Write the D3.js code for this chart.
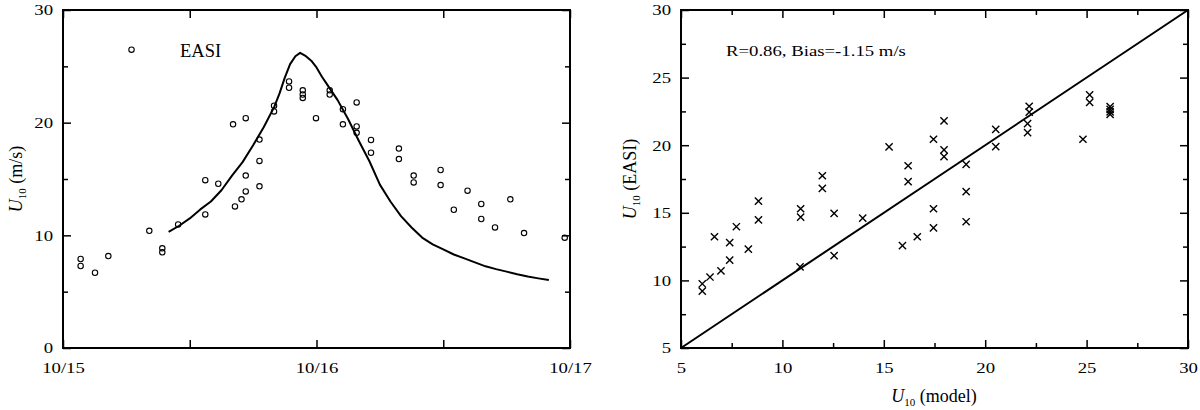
<!DOCTYPE html>
<html>
<head>
<meta charset="utf-8">
<script src="https://cdn.jsdelivr.net/npm/d3@7"></script>
<style>
  body { margin: 0; background: #fff; }
  svg, svg text { font-family: "Liberation Serif", "Times New Roman", serif; }
  .tick line { stroke: #000; stroke-width: 1.5; }
  .tick text { font-size: 15px; fill: #000; }
</style>
</head>
<body>
<div id="chart"></div>
<script>
// time axis (hours since 10/15 00:00)
var dayTicks = [0, 12, 24, 36, 48];
var dayLabels = ["10/15", "", "10/16", "", "10/17"];

// EASI observations, left panel
var obsHours = [1.67, 1.67, 3.03, 4.29, 8.17, 9.4, 9.4, 10.9, 13.47, 13.47, 14.7,
  16.1, 16.28, 16.9, 17.3, 17.3, 17.3, 18.6, 18.6, 18.6, 19.98, 19.98, 21.4, 21.4,
  22.7, 22.7, 22.7, 23.95, 25.25, 25.25, 26.5, 26.5, 27.8, 27.8, 27.8, 29.16, 29.16,
  31.8, 31.8, 33.2, 33.2, 35.75, 35.75, 37.0, 38.3, 39.6, 39.6, 40.9, 42.35, 43.65, 47.5];
var obsSpeed = [7.9, 7.28, 6.68, 8.16, 10.4, 8.85, 8.49, 10.97, 14.9, 11.86, 14.58,
  19.85, 12.57, 13.2, 20.4, 15.3, 13.9, 18.5, 16.6, 14.35, 21.5, 21.0, 23.66, 23.1,
  22.87, 22.5, 22.2, 20.4, 22.87, 22.5, 21.2, 19.85, 21.8, 19.67, 19.1, 18.46, 17.33,
  17.7, 16.77, 15.3, 14.7, 15.8, 14.46, 12.27, 13.96, 12.78, 11.45, 10.7, 13.2, 10.2, 9.79];

// model wind, left panel
var modelHours = [10, 11, 12, 13, 14, 15, 16, 17, 18, 19, 20, 20.5, 21, 21.5, 22, 22.45,
  23, 23.5, 24, 24.5, 25, 26, 27, 28, 29, 30, 31, 32, 33, 34, 35, 36, 37, 38, 39, 40,
  41, 42, 43, 44, 45, 46];
var modelSpeed = [10.3, 10.85, 11.5, 12.3, 13.0, 14.0, 15.3, 16.5, 18.0, 19.6, 21.4, 22.6,
  24.0, 25.2, 25.9, 26.2, 25.9, 25.5, 24.9, 24.1, 23.4, 22.0, 20.3, 18.4, 16.6, 14.5,
  13.0, 11.7, 10.7, 9.8, 9.2, 8.75, 8.3, 7.95, 7.6, 7.25, 7.0, 6.78, 6.55, 6.35, 6.18, 6.03];

// scatter, right panel
var scatterModel = [6.05, 6.05, 6.43, 6.65, 6.97, 7.4, 7.4, 7.73, 8.32, 8.82, 8.82,
  10.9, 10.9, 10.87, 11.97, 11.97, 12.55, 12.55, 13.96, 15.26, 15.92, 16.2, 16.2, 16.65,
  17.45, 17.45, 17.45, 17.97, 17.97, 17.97, 19.06, 19.06, 19.06, 20.52, 20.52,
  22.17, 22.17, 22.09, 22.09, 24.82, 25.15, 25.15, 26.16, 26.16, 26.16, 26.16];
var scatterEasi = [9.75, 9.2, 10.25, 13.23, 10.7, 12.8, 11.5, 13.97, 12.32, 15.87, 14.47,
  15.3, 14.68, 11.0, 17.74, 16.8, 14.96, 11.83, 14.6, 19.88, 12.57, 18.48, 17.3, 13.23,
  20.44, 15.3, 13.88, 21.8, 19.65, 19.15, 18.58, 16.56, 14.34, 21.17, 19.89,
  22.88, 22.45, 21.6, 20.93, 20.44, 23.72, 23.17, 22.86, 22.65, 22.47, 22.28];
var scatterTicks = [5, 10, 15, 20, 25, 30];

var textStretch = 1.25;

var svg = d3.select("#chart").append("svg")
  .attr("width", 1200)
  .attr("height", 410);

svg.append("rect").attr("width", 1200).attr("height", 410).attr("fill", "#fff");

var plotTop = 10, plotBottom = 348;

function frameAxes(g, x, y, xMajor, xMinor, yMajor, yMinor, xFormat) {
  var x0 = x.range()[0], x1 = x.range()[1];

  g.append("g").attr("transform", `translate(0,${plotBottom})`)
    .call(d3.axisBottom(x).tickValues(xMinor).tickSizeInner(-5).tickSizeOuter(0).tickFormat(""));
  const bx = g.append("g").attr("transform", `translate(0,${plotBottom})`)
    .call(d3.axisBottom(x).tickValues(xMajor).tickSizeInner(-8).tickSizeOuter(0)
      .tickPadding(14).tickFormat(xFormat));
  bx.selectAll("text").attr("transform", `scale(${textStretch},1)`);

  g.append("g").attr("transform", `translate(0,${plotTop})`)
    .call(d3.axisTop(x).tickValues(xMinor).tickSizeInner(-5).tickSizeOuter(0).tickFormat(""));
  g.append("g").attr("transform", `translate(0,${plotTop})`)
    .call(d3.axisTop(x).tickValues(xMajor).tickSizeInner(-8).tickSizeOuter(0).tickFormat(""));

  g.append("g").attr("transform", `translate(${x0},0)`)
    .call(d3.axisLeft(y).tickValues(yMinor).tickSizeInner(-5).tickSizeOuter(0).tickFormat(""));
  const ly = g.append("g").attr("transform", `translate(${x0},0)`)
    .call(d3.axisLeft(y).tickValues(yMajor).tickSizeInner(-8).tickSizeOuter(0).tickFormat(d3.format("d")));
  ly.selectAll("text")
    .attr("x", -10 / textStretch)
    .attr("transform", `scale(${textStretch},1)`);

  g.append("g").attr("transform", `translate(${x1},0)`)
    .call(d3.axisRight(y).tickValues(yMinor).tickSizeInner(-5).tickSizeOuter(0).tickFormat(""));
  g.append("g").attr("transform", `translate(${x1},0)`)
    .call(d3.axisRight(y).tickValues(yMajor).tickSizeInner(-8).tickSizeOuter(0).tickFormat(""));

  g.selectAll(".domain").remove();

  g.append("rect")
    .attr("x", x0).attr("y", plotTop)
    .attr("width", x1 - x0).attr("height", plotBottom - plotTop)
    .attr("fill", "none").attr("stroke", "#000").attr("stroke-width", 2);
}

function u10Label(sel, rest) {
  sel.attr("font-size", 18).attr("fill", "#000");
  sel.append("tspan").attr("font-style", "italic").text("U");
  sel.append("tspan").attr("font-size", 11).attr("dy", 4).text("10");
  sel.append("tspan").attr("dy", -4).text(rest);
}

// ---------- left panel: time series ----------
var xTime = d3.scaleLinear().domain([0, 48]).range([63, 570]);
var ySpeed = d3.scaleLinear().domain([0, 30]).range([plotBottom, plotTop]);

var left = svg.append("g");
frameAxes(left, xTime, ySpeed, dayTicks, [], [0, 10, 20, 30], [5, 15, 25],
  (d, i) => dayLabels[i]);

var modelLine = d3.line()
  .x((d, i) => xTime(modelHours[i]))
  .y(d => ySpeed(d));

left.append("path")
  .datum(modelSpeed)
  .attr("d", modelLine)
  .attr("fill", "none")
  .attr("stroke", "#000")
  .attr("stroke-width", 2)
  .attr("stroke-linejoin", "round");

left.selectAll("circle.obs")
  .data(obsSpeed)
  .enter()
  .append("circle")
  .attr("class", "obs")
  .attr("cx", (d, i) => xTime(obsHours[i]))
  .attr("cy", d => ySpeed(d))
  .attr("r", 2.7)
  .attr("fill", "none")
  .attr("stroke", "#000")
  .attr("stroke-width", 1.1);

// legend
left.append("circle")
  .attr("cx", 131.5).attr("cy", 49.7).attr("r", 2.7)
  .attr("fill", "none").attr("stroke", "#000").attr("stroke-width", 1.1);
left.append("text")
  .attr("x", 180).attr("y", 57)
  .attr("font-size", 18.5)
  .text("EASI");

left.append("text")
  .attr("transform", "translate(22,179) rotate(-90)")
  .attr("text-anchor", "middle")
  .call(u10Label, " (m/s)");

// ---------- right panel: scatter ----------
var xModel = d3.scaleLinear().domain([5, 30]).range([681, 1188]);
var yEasi = d3.scaleLinear().domain([5, 30]).range([plotBottom, plotTop]);

var right = svg.append("g");
frameAxes(right, xModel, yEasi, scatterTicks, [7.5, 12.5, 17.5, 22.5, 27.5],
  scatterTicks, [7.5, 12.5, 17.5, 22.5, 27.5], d3.format("d"));

right.append("line")
  .attr("x1", xModel(5)).attr("y1", yEasi(5))
  .attr("x2", xModel(30)).attr("y2", yEasi(30))
  .attr("stroke", "#000")
  .attr("stroke-width", 2);

var cross = 3.6;
right.selectAll("path.cross")
  .data(scatterEasi)
  .enter()
  .append("path")
  .attr("class", "cross")
  .attr("transform", (d, i) => `translate(${xModel(scatterModel[i])},${yEasi(d)})`)
  .attr("d", `M${-cross},${-cross}L${cross},${cross}M${-cross},${cross}L${cross},${-cross}`)
  .attr("fill", "none")
  .attr("stroke", "#000")
  .attr("stroke-width", 1.4);

right.append("text")
  .attr("transform", `translate(726,56) scale(${textStretch},1)`)
  .attr("font-size", 15)
  .text("R=0.86, Bias=-1.15 m/s");

right.append("text")
  .attr("transform", "translate(636,179) rotate(-90)")
  .attr("text-anchor", "middle")
  .call(u10Label, " (EASI)");

right.append("text")
  .attr("x", 934).attr("y", 402)
  .attr("text-anchor", "middle")
  .call(u10Label, " (model)");
</script>
</body>
</html>
